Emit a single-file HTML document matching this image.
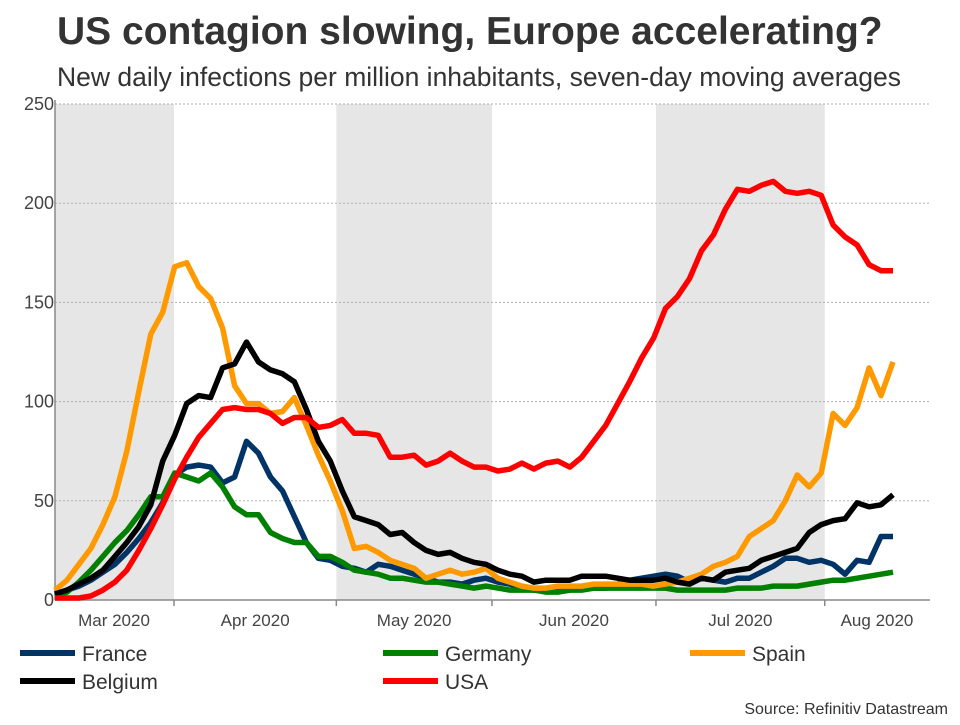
<!DOCTYPE html>
<html><head><meta charset="utf-8"><style>
body{margin:0;background:#fff;font-family:"Liberation Sans",sans-serif;}
svg text{font-family:"Liberation Sans",sans-serif;}
</style></head><body>
<svg id="chart" width="960" height="720" viewBox="0 0 960 720">
<text x="57" y="44" font-size="39" font-weight="bold" fill="#333">US contagion slowing, Europe accelerating?</text>
<text x="57" y="86" font-size="26.5" fill="#333">New daily infections per million inhabitants, seven-day moving averages</text>
<g id="bands"></g><g id="grid"></g><g id="axes"></g><g id="series"></g><g id="legend"></g>
<text x="948" y="714" font-size="16" fill="#333" text-anchor="end">Source: Refinitiv Datastream</text>
</svg>
<script>
const yTicks=[0,50,100,150,200,250];
const monthLabels=["Mar 2020","Apr 2020","May 2020","Jun 2020","Jul 2020","Aug 2020"];
const monthStarts=[-4.6,9.94,23.5,36.5,50.2,64.3,70.3];
const france=[3,5,7,10,14,18,24,31,39,49,63,67,68,67,59,62,80,74,62,55,42,29,21,20,17,16,14,18,17,15,13,11,9,9,8,10,11,9,8,6,5,5,5,5,6,6,6,8,10,11,12,13,12,9,11,10,9,11,11,14,17,21,21,19,20,18,13,20,19,32,32];
const germany=[2,4,9,15,22,29,35,43,52,52,64,62,60,64,57,47,43,43,34,31,29,29,22,22,19,15,14,13,11,11,10,9,9,8,7,6,7,6,5,5,5,4,4,5,5,6,6,6,6,6,6,6,5,5,5,5,5,6,6,6,7,7,7,8,9,10,10,11,12,13,14];
const spain=[5,10,18,26,38,52,75,105,134,145,168,170,158,152,137,108,99,99,94,95,102,88,73,60,45,26,27,24,20,18,16,11,13,15,13,14,16,11,9,7,6,6,7,7,7,8,8,8,8,8,7,8,9,11,13,17,19,22,32,36,40,50,63,57,64,94,88,97,117,103,120];
const belgium=[3,5,8,11,15,22,29,37,48,70,83,99,103,102,117,119,130,120,116,114,110,96,80,70,55,42,40,38,33,34,29,25,23,24,21,19,18,15,13,12,9,10,10,10,12,12,12,11,10,10,10,11,9,8,11,10,14,15,16,20,22,24,26,34,38,40,41,49,47,48,53];
const usa=[1,1,1,2,5,9,15,25,36,48,61,72,82,89,96,97,96,96,94,89,92,92,87,88,91,84,84,83,72,72,73,68,70,74,70,67,67,65,66,69,66,69,70,67,72,80,88,99,110,122,132,147,153,162,176,184,197,207,206,209,211,206,205,206,204,189,183,179,169,166,166];
const seriesNames=["France","Germany","Spain","Belgium","USA"];
const seriesColors=["#003366","#008000","#ff9900","#000000","#ff0000"];
const seriesData=[france,germany,spain,belgium,usa];
const NS="http://www.w3.org/2000/svg";
const X0=55,X1=930,Y0=600,Y250=104,STEP=838/70;
const x=i=>X0+i*STEP;
const y=v=>Y0-(v/250)*(Y0-Y250);
function mk(t,a,p){const e=document.createElementNS(NS,t);for(const k in a)e.setAttribute(k,a[k]);p.appendChild(e);return e;}
const bands=document.getElementById('bands');
for(let m=0;m<monthLabels.length;m+=2){
 const a=Math.max(X0,x(monthStarts[m])),b=x(monthStarts[m+1]);
 const r=mk('rect',{x:a,y:Y250,width:b-a,height:Y0-Y250,fill:'#e6e6e6'},bands);
 
 
}
const grid=document.getElementById('grid');
yTicks.forEach(t=>{
 if(t>0){const l=mk('line',{x1:X0,x2:X1,y1:y(t),y2:y(t),stroke:'#b0b0b0','stroke-width':1,'stroke-dasharray':'2,2'},grid);
 
 }
 const tx=mk('text',{x:54,y:y(t)+6,'font-size':18,fill:'#444','text-anchor':'end'},grid);
 tx.textContent=t;
 
 
});
const axes=document.getElementById('axes');
const ax=mk('line',{x1:X0,x2:X1,y1:Y0,y2:Y0,stroke:'#888','stroke-width':1.5},axes);


const ay=mk('line',{x1:X0,x2:X0,y1:Y250-4,y2:Y0,stroke:'#888','stroke-width':1.5},axes);


for(let m=0;m<monthLabels.length;m++){
 const a=x(monthStarts[m]),b=x(monthStarts[m+1]);
 if(m>0){const tk=mk('line',{x1:a,x2:a,y1:Y0,y2:Y0+6,stroke:'#888','stroke-width':1.5},axes);
 
 }
 const cx=m==0?114:(m==monthLabels.length-1?877:(a+b)/2);
 const tx=mk('text',{x:cx,y:626,'font-size':17,fill:'#444','text-anchor':'middle'},axes);
 tx.textContent=monthLabels[m];
 
 
}
const sg=document.getElementById('series');
seriesData.forEach((d,k)=>{
 const p=mk('polyline',{points:d.map((v,i)=>x(i).toFixed(1)+','+y(v).toFixed(1)).join(' '),fill:'none',stroke:seriesColors[k],'stroke-width':5.5,'stroke-linejoin':'round'},sg);
 
 
});
const lg=document.getElementById('legend');
const pos=[[20,653],[383,653],[690,653],[20,681],[383,681]];
seriesNames.forEach((n,k)=>{
 const g=mk('g',{},lg);
 
 
 const [lx,ly]=pos[k];
 mk('line',{x1:lx,x2:lx+55,y1:ly,y2:ly,stroke:seriesColors[k],'stroke-width':6},g);
 const t=mk('text',{x:lx+62,y:ly+8,'font-size':21,fill:'#333'},g);
 t.textContent=n;
});
</script>
</body></html>
